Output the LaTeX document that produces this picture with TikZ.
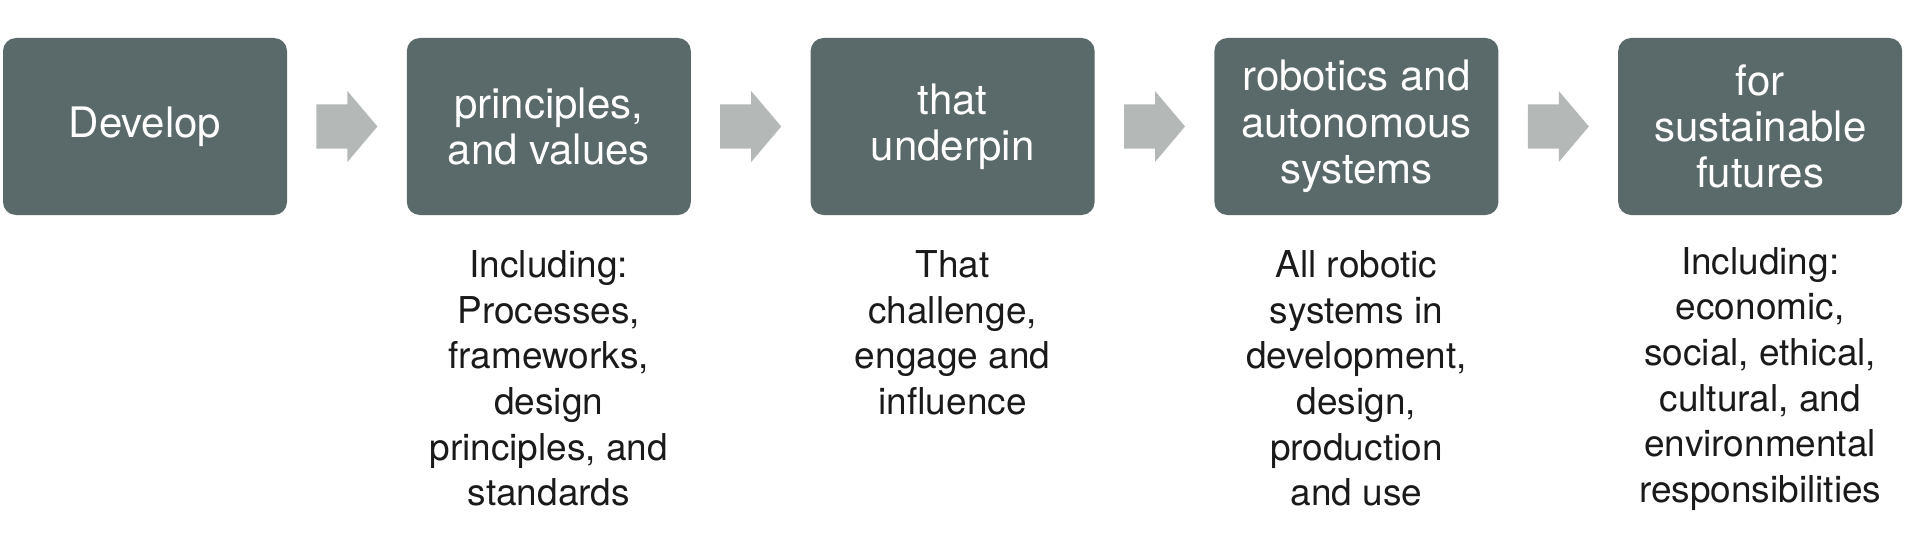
\documentclass[tikz,border=0pt]{standalone}
\usepackage{fontspec}
\setmainfont{TeX Gyre Heros}
\usetikzlibrary{positioning,calc}

\definecolor{boxgrey}{HTML}{5A6969}
\definecolor{arrowgrey}{HTML}{B4B9B8}
\definecolor{notetext}{HTML}{1A1A1A}

\tikzset{
  stage/.style={rectangle,rounded corners=6.5pt,fill=boxgrey,text=white,
    minimum width=142pt,minimum height=88.5pt,inner sep=0pt,align=center,
    font=\fontsize{21}{23.2}\selectfont},
  note/.style={inner sep=0pt,align=center,text=notetext,
    font=\fontsize{18.5}{22.8}\selectfont},
  flow/.style={fill=arrowgrey}
}

\begin{document}
\begin{tikzpicture}[x=0.5pt,y=-0.5pt]
\useasboundingbox (0,0) rectangle (1920,556);
\node[stage] (s1) at (145,126.5) {Develop};
\node[stage,right=59.5pt of s1] (s2) {principles,\\and values};
\node[stage,right=59.5pt of s2] (s3) {that\\underpin};
\node[stage,right=59.5pt of s3] (s4) {robotics and\\autonomous\\systems};
\node[stage,right=59.5pt of s4] (s5) {for\\sustainable\\futures};
% block arrows between the stages
\foreach \a/\b in {s1/s2,s2/s3,s3/s4,s4/s5}{
  \coordinate (m) at ($(\a.east)!0.5!(\b.west)$);
  \fill[flow] (m) +(-30.5,-22) -- +(0.5,-22) -- +(0.5,-35.5) -- +(30.5,0)
    -- +(0.5,35.5) -- +(0.5,22) -- +(-30.5,22) -- cycle;
}
% notes under the stages
\node[note,below=17.5pt of s2] (n2) {Including:\\Processes,\\frameworks,\\design\\principles, and\\standards};
\node[note,below=17.5pt of s3] (n3) {That\\challenge,\\engage and\\influence};
\node[note,below=17.5pt of s4] (n4) {All robotic\\systems in\\development,\\design,\\production\\and use};
\node[note,below=15.75pt of s5] (n5) {Including:\\economic,\\social, ethical,\\cultural, and\\environmental\\responsibilities};
\end{tikzpicture}
\end{document}
